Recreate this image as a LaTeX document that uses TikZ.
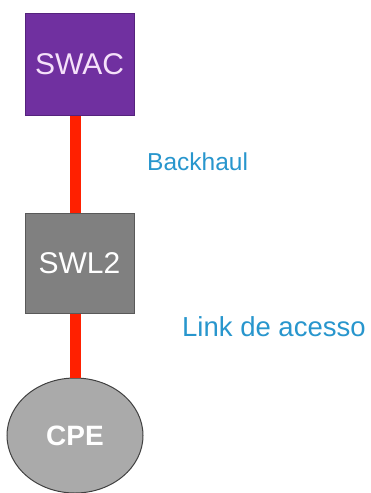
\documentclass[tikz,border=0pt]{standalone}
\usepackage{fontspec}
\setmainfont{Liberation Sans}
\usetikzlibrary{shapes.geometric}
\definecolor{swacfill}{RGB}{112,48,160}
\definecolor{swacline}{RGB}{85,35,125}
\definecolor{swlfill}{RGB}{128,128,128}
\definecolor{cpefill}{RGB}{170,170,170}
\definecolor{linkred}{RGB}{255,32,0}
\definecolor{labelblue}{RGB}{40,150,205}

\begin{document}
\begin{tikzpicture}
  [x=1pt,y=-1pt,
   box/.style={draw,line width=1pt,minimum width=109pt,minimum height=102pt,
     text=white,font=\fontsize{30}{34}\selectfont,inner sep=0pt},
   link/.style={linkred,line width=11pt},
   lbl/.style={anchor=west,text=labelblue,inner sep=0pt}]
  \useasboundingbox (0,0) rectangle (371,493);
  \node[box,fill=swacfill,draw=swacline,text={rgb,255:red,245;green,225;blue,250}] (swac) at (79.5,64) {SWAC};
  \node[box,fill=swlfill,draw=black!65,minimum height=100pt] (swl2) at (79.5,263) {SWL2};
  \node[ellipse,draw=black!75,line width=1pt,fill=cpefill,minimum width=136pt,minimum height=115pt,
    text=white,font=\bfseries\fontsize{28}{34}\selectfont,inner sep=0pt] (cpe) at (75,435.5) {CPE};
  \node[lbl,font=\fontsize{24.5}{28}\selectfont] (backhaul) at (147,162) {Backhaul};
  \node[lbl,font=\fontsize{27.5}{30}\selectfont] (acesso) at (182,327) {Link de acesso};
  \draw[link] (swac.south -| cpe) -- (swl2.north -| cpe);
  \draw[link] (swl2.south -| cpe) -- (cpe.north);
\end{tikzpicture}
\end{document}
